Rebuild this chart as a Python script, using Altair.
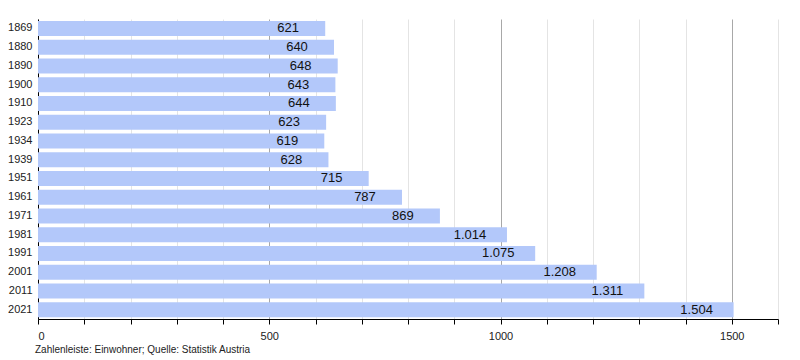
import altair as alt
import pandas as pd

years = ["1869", "1880", "1890", "1900", "1910", "1923", "1934", "1939",
         "1951", "1961", "1971", "1981", "1991", "2001", "2011", "2021"]
values = [621, 640, 648, 643, 644, 623, 619, 628,
          715, 787, 869, 1014, 1075, 1208, 1311, 1504]
labels = ["621", "640", "648", "643", "644", "623", "619", "628",
          "715", "787", "869", "1.014", "1.075", "1.208", "1.311", "1.504"]
caption = "Zahlenleiste: Einwohner; Quelle: Statistik Austria"

df = pd.DataFrame({"year": years, "value": values, "label": labels})

font = "Liberation Sans"

x_enc = alt.X(
    "value:Q",
    scale=alt.Scale(domain=[0, 1600], nice=False),
    axis=alt.Axis(
        title=None,
        values=list(range(0, 1700, 100)),
        labelExpr="datum.value % 500 === 0 ? datum.label : ''",
        format="d",
        grid=True,
        gridColor={"condition": {"test": "datum.value % 500 === 0", "value": "#a8a8a8"},
                   "value": "#e4e4e4"},
        domainColor="#000000",
        tickColor="#000000",
        tickSize=5,
        labelFontSize=11,
        labelFont=font,
        labelColor="#222222",
        labelPadding=6,
    ),
)
y_enc = alt.Y(
    "year:N",
    sort=years,
    scale=alt.Scale(paddingInner=0.2, paddingOuter=0.1),
    axis=alt.Axis(
        title=None,
        ticks=False,
        domainColor="#000000",
        labelFontSize=11,
        labelFont=font,
        labelColor="#222222",
        labelPadding=6,
    ),
)

bars = alt.Chart(df).mark_bar(color="#b3c8fa").encode(x=x_enc, y=y_enc)
text = alt.Chart(df).mark_text(
    align="center", dx=-37, fontSize=13, font=font, color="#111111"
).encode(x="value:Q", y=alt.Y("year:N", sort=years), text="label:N")

chart = (bars + text).properties(
    width=740,
    height=300,
    autosize=alt.AutoSizeParams(type="none"),
    padding={"left": 30, "top": 11, "right": 12, "bottom": 40},
    title=alt.TitleParams(
        caption, orient="bottom", anchor="start", frame="group", fontSize=10,
        font=font, fontWeight="normal", color="#222222", offset=4, dx=-3,
    ),
).configure_view(stroke=None)

chart.save("out.html", embed_options={"renderer": "svg", "actions": False})
